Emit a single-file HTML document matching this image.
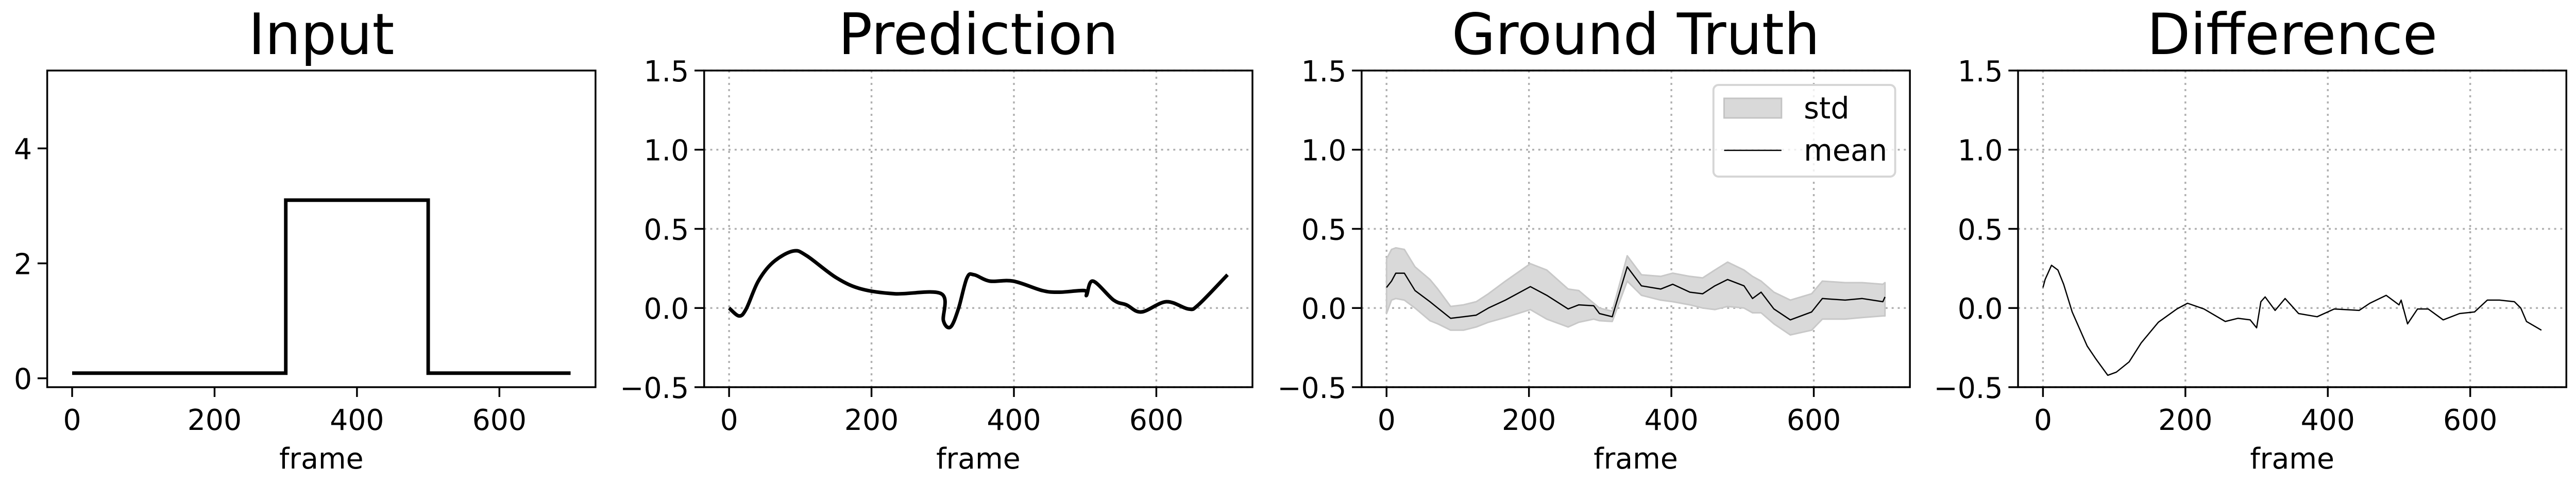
<!DOCTYPE html>
<html><head><meta charset="utf-8">
<style>
html,body{margin:0;padding:0;background:#fff;width:100%;height:100%;overflow:hidden;}
svg{display:block;position:absolute;left:0;top:0;width:100%;height:100%;font-family:"DejaVu Sans","Liberation Sans",sans-serif;}
</style></head>
<body>
<svg id="fig" xmlns="http://www.w3.org/2000/svg" viewBox="0 0 5074 942" preserveAspectRatio="none"></svg>
<script>
// ---- data ----
const inputFrames = [0, 300, 300, 500, 500, 700];
const inputValues = [0.09, 0.09, 3.1, 3.1, 0.09, 0.09];

const predFrames = [0,14,24,41,62,90,109,151,186,233,298,301,311,322,334,344,366,399,440,464,499,502,511,540,558,579,614,645,659,700];
const predValues = [0.0,-0.05,-0.006,0.17,0.29,0.36,0.33,0.19,0.12,0.09,0.09,-0.08,-0.12,-0.006,0.19,0.21,0.17,0.17,0.11,0.10,0.11,0.08,0.17,0.05,0.02,-0.025,0.04,-0.006,0.02,0.21];

const gtFrames = [0,7,13,25,40,61,72,90,108,126,143,167,202,225,255,270,291,299,317,338,358,385,402,426,444,461,479,502,514,526,544,567,597,612,644,668,697,700];
const gtMean = [0.13,0.17,0.22,0.22,0.11,0.04,0.0,-0.065,-0.055,-0.045,0.0,0.05,0.135,0.08,-0.006,0.02,0.014,-0.035,-0.055,0.26,0.14,0.12,0.15,0.10,0.09,0.14,0.18,0.14,0.06,0.10,-0.006,-0.075,-0.025,0.06,0.05,0.06,0.04,0.07];
const gtUpper = [0.31,0.37,0.38,0.37,0.26,0.18,0.12,0.01,0.02,0.04,0.09,0.17,0.28,0.24,0.12,0.11,0.03,0.0,-0.02,0.33,0.21,0.20,0.22,0.20,0.19,0.24,0.29,0.24,0.20,0.17,0.10,0.05,0.09,0.17,0.16,0.16,0.15,0.16];
const gtLower = [-0.035,0.05,0.06,0.05,0.0,-0.08,-0.10,-0.14,-0.14,-0.12,-0.09,-0.06,-0.01,-0.07,-0.12,-0.09,-0.07,-0.08,-0.085,0.17,0.08,0.05,0.04,0.02,0.0,-0.01,0.01,0.0,-0.03,-0.03,-0.10,-0.17,-0.14,-0.07,-0.07,-0.06,-0.05,-0.05];

const diffFrames = [0,3,12,21,29,41,62,74,91,103,121,138,162,188,203,226,256,274,291,300,306,312,326,340,359,385,409,444,459,482,500,503,512,526,541,562,585,606,624,641,662,671,679,700];
const diffValues = [0.13,0.18,0.27,0.24,0.15,-0.025,-0.24,-0.32,-0.425,-0.405,-0.34,-0.22,-0.09,-0.006,0.03,-0.006,-0.085,-0.065,-0.075,-0.125,0.04,0.07,-0.015,0.06,-0.035,-0.055,-0.006,-0.015,0.03,0.08,0.02,0.05,-0.10,-0.006,-0.006,-0.075,-0.035,-0.025,0.05,0.05,0.04,0.0,-0.085,-0.14];

const xTicks = [0, 200, 400, 600];
const xTickLabels = ["0", "200", "400", "600"];
const inputYTicks = [0, 2, 4];
const inputYTickLabels = ["0", "2", "4"];
const yTicks = [-0.5, 0, 0.5, 1.0, 1.5];
const yTickLabels = ["\u22120.5", "0.0", "0.5", "1.0", "1.5"];
const titles = ["Input", "Prediction", "Ground Truth", "Difference"];

// ---- layout ----
const NS = "http://www.w3.org/2000/svg";
const svg = document.getElementById("fig");
const TOP = 137, BOT = 752, W = 1080;
const lefts = [93, 1387, 2682, 3975];

function mk(tag, attrs, parent) {
  const e = document.createElementNS(NS, tag);
  for (const k in attrs) e.setAttribute(k, attrs[k]);
  (parent || svg).appendChild(e);
  return e;
}
function makeAxes(i, ylo, yhi) {
  const L = lefts[i];
  return {
    L: L, R: L + W,
    x: f => L + (f + 35) / 770 * W,
    y: v => BOT - (v - ylo) / (yhi - ylo) * (BOT - TOP)
  };
}
function pathD(ax, fs, vs) {
  return fs.map((f, k) => (k ? "L" : "M") + ax.x(f).toFixed(1) + " " + ax.y(vs[k]).toFixed(1)).join(" ");
}
function smoothD(ax, fs, vs) {
  const p = fs.map((f, k) => [ax.x(f), ax.y(vs[k])]);
  let d = "M" + p[0][0].toFixed(1) + " " + p[0][1].toFixed(1);
  for (let k = 0; k < p.length - 1; k++) {
    const p0 = p[Math.max(0, k - 1)], p1 = p[k], p2 = p[k + 1], p3 = p[Math.min(p.length - 1, k + 2)];
    const c1 = [p1[0] + (p2[0] - p0[0]) / 6, p1[1] + (p2[1] - p0[1]) / 6];
    const c2 = [p2[0] - (p3[0] - p1[0]) / 6, p2[1] - (p3[1] - p1[1]) / 6];
    d += " C" + c1[0].toFixed(1) + " " + c1[1].toFixed(1) + " " + c2[0].toFixed(1) + " " + c2[1].toFixed(1) + " " + p2[0].toFixed(1) + " " + p2[1].toFixed(1);
  }
  return d;
}
function drawFrame(i, ax, yt, ytl, grid) {
  const g = mk("g", {});
  
  
  const t = mk("text", {x: (ax.L + ax.R) / 2, y: 105, "font-size": 111, "text-anchor": "middle", fill: "#000"}, g);
  t.textContent = titles[i];
  
  
  if (grid) {
    xTicks.forEach(v => {
      const l = mk("line", {x1: ax.x(v), x2: ax.x(v), y1: TOP, y2: BOT, stroke: "#b0b0b0", "stroke-width": 3.5, "stroke-dasharray": "4 8"}, g);
      
      
    });
    yt.forEach(v => {
      const l = mk("line", {x1: ax.L, x2: ax.R, y1: ax.y(v), y2: ax.y(v), stroke: "#b0b0b0", "stroke-width": 3.5, "stroke-dasharray": "4 8"}, g);
      
      
    });
  }
  xTicks.forEach((v, k) => {
    mk("line", {x1: ax.x(v), x2: ax.x(v), y1: BOT, y2: BOT + 19, stroke: "#000", "stroke-width": 3.5}, g);
    const tl = mk("text", {x: ax.x(v), y: 835, "font-size": 56, "text-anchor": "middle"}, g);
    tl.textContent = xTickLabels[k];
    
    
  });
  yt.forEach((v, k) => {
    mk("line", {x1: ax.L - 19, x2: ax.L, y1: ax.y(v), y2: ax.y(v), stroke: "#000", "stroke-width": 3.5}, g);
    const tl = mk("text", {x: ax.L - 30, y: ax.y(v) + 21, "font-size": 56, "text-anchor": "end"}, g);
    tl.textContent = ytl[k];
    
    
  });
  const xl = mk("text", {x: (ax.L + ax.R) / 2, y: 910, "font-size": 56, "text-anchor": "middle"}, g);
  xl.textContent = "frame";
  
  
  return g;
}
function spine(g, ax) {
  const r = mk("rect", {x: ax.L, y: TOP, width: W, height: BOT - TOP, fill: "none", stroke: "#000", "stroke-width": 3.5}, g);
  
  
}

// Input
let ax = makeAxes(0, -0.155, 5.355);
let g = drawFrame(0, ax, inputYTicks, inputYTickLabels, false);
let p = mk("path", {d: pathD(ax, inputFrames, inputValues), fill: "none", stroke: "#000", "stroke-width": 7, "stroke-linejoin": "miter"}, g);


spine(g, ax);

// Prediction
ax = makeAxes(1, -0.5, 1.5);
g = drawFrame(1, ax, yTicks, yTickLabels, true);
p = mk("path", {d: smoothD(ax, predFrames, predValues), fill: "none", stroke: "#000", "stroke-width": 7, "stroke-linejoin": "round"}, g);


spine(g, ax);

// Ground truth
ax = makeAxes(2, -0.5, 1.5);
g = drawFrame(2, ax, yTicks, yTickLabels, true);
const up = pathD(ax, gtFrames, gtUpper);
const lo = gtFrames.slice().reverse().map((f, k) => "L" + ax.x(f).toFixed(1) + " " + ax.y(gtLower[gtLower.length - 1 - k]).toFixed(1)).join(" ");
p = mk("path", {d: up + " " + lo + " Z", fill: "#d9d9d9", stroke: "#c8c8c8", "stroke-width": 3, "stroke-linejoin": "round"}, g);


p = mk("path", {d: pathD(ax, gtFrames, gtMean), fill: "none", stroke: "#000", "stroke-width": 2.5, "stroke-linejoin": "round"}, g);


spine(g, ax);
// legend
const lg = mk("g", {}, g);


mk("rect", {x: 3375, y: 165, width: 358, height: 178, rx: 10, fill: "#fff", "fill-opacity": 0.8, stroke: "#d6d6d6", "stroke-width": 4}, lg);
let le = mk("rect", {x: 3396, y: 191, width: 113, height: 38, fill: "#d9d9d9", stroke: "#c4c4c4", "stroke-width": 3}, lg);


let lt = mk("text", {x: 3553, y: 230, "font-size": 58}, lg);
lt.textContent = "std";


le = mk("line", {x1: 3396, x2: 3509, y1: 292, y2: 292, stroke: "#000", "stroke-width": 2.5}, lg);


lt = mk("text", {x: 3553, y: 312, "font-size": 58}, lg);
lt.textContent = "mean";



// Difference
ax = makeAxes(3, -0.5, 1.5);
g = drawFrame(3, ax, yTicks, yTickLabels, true);
p = mk("path", {d: pathD(ax, diffFrames, diffValues), fill: "none", stroke: "#000", "stroke-width": 2.5, "stroke-linejoin": "round"}, g);


spine(g, ax);
</script>
</body></html>
